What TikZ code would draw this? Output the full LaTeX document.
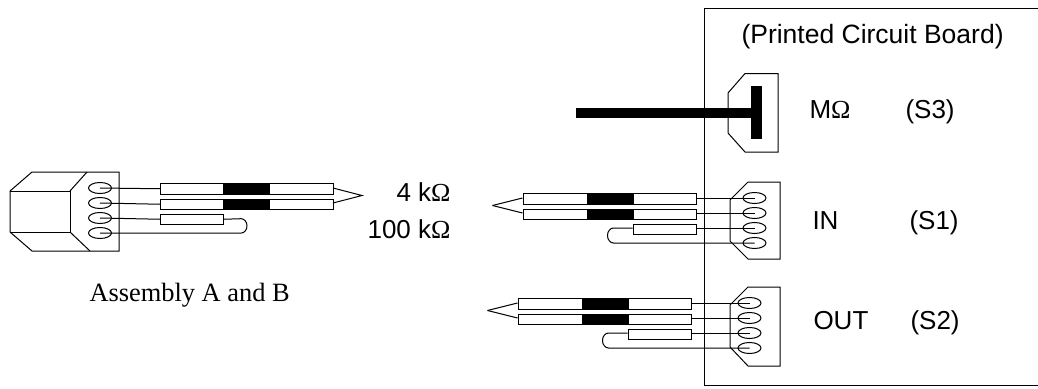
\documentclass[tikz,border=0pt]{standalone}
\usepackage{fontspec}
\setmainfont{Liberation Sans}
\newfontfamily\serifface{Liberation Serif}
\newcommand{\ohm}{{\serifface Ω}}
\usetikzlibrary{shapes.geometric}
\tikzset{
  x=1pt,y=-1pt,
  every path/.style={line width=1pt,line join=miter},
  lbl/.style={inner sep=0pt,font=\fontsize{26}{30}\selectfont,text=black},
  pad/.style={draw=black,fill=white,ellipse,minimum width=23pt,minimum height=11pt,inner sep=0pt},
  sleeve/.style={draw=black,fill=white,inner sep=0pt,anchor=north west},
  band/.style={fill=black,draw=black,inner sep=0pt,anchor=north west},
}
\newcommand{\probe}[3]{%
  \begin{scope}[shift={(#1,#2)}]
    \coordinate (#3t) at (-30,7.5);
    \coordinate (#3a) at (0,0);
    \coordinate (#3b) at (0,15);
    \node[sleeve,minimum width=173pt,minimum height=10.5pt] (#3s1) at (0,-5) {};
    \node[sleeve,minimum width=173pt,minimum height=10.5pt] (#3s2) at (0,10.5) {};
    \node[band,minimum width=46pt,minimum height=10.5pt] (#3k1) at (64,-5) {};
    \node[band,minimum width=46pt,minimum height=10.5pt] (#3k2) at (64,10.5) {};
    \node[sleeve,minimum width=63pt,minimum height=10.5pt] (#3s3) at (110,25.5) {};
    \coordinate (#3r1) at (173,0);
    \coordinate (#3r2) at (173,15);
    \coordinate (#3r3) at (173,30);
    \coordinate (#3l3) at (110,30);
    \coordinate (#3la) at (91,30);
    \node[pad] (#3p1) at (232,0) {};
    \node[pad] (#3p2) at (232,15) {};
    \node[pad] (#3p3) at (232,30) {};
    \node[pad] (#3p4) at (232,45) {};
    \draw (#3t) -- (#3a);
    \draw (#3t) -- (#3b);
    \draw (#3r1) -- (#3p1.center);
    \draw (#3r2) -- (#3p2.center);
    \draw (#3r3) -- (#3p3.center);
    \draw (#3l3) -- (#3la) arc[start angle=-90,end angle=-270,x radius=6pt,y radius=-7.5pt] -- (#3p4.center);
  \end{scope}}
\begin{document}
\begin{tikzpicture}
\useasboundingbox (0,0) rectangle (1038,388);
\fill[white] (0,0) rectangle (1038,388);
% board
\draw (1038,8) -- (704,8) -- (704,385) -- (1038,385);
% thick lead and M-ohm connector
\draw (728,93) -- (745,73.5) -- (778,73.5) -- (778,152) -- (745,152) -- (728,133) -- cycle;
\fill (576,107.5) rectangle (751,118);
\fill (750.5,85.5) rectangle (762,139);
% IN connector
\draw (730,200) -- (748,182) -- (780,182) -- (780,259) -- (748,259) -- (730,241) -- cycle;
% OUT connector
\draw (730,305) -- (748,287) -- (780,287) -- (780,366) -- (748,366) -- (730,347) -- cycle;
\probe{522.5}{198}{i}
\probe{517.5}{303}{o}
% Left assembly
\draw (10,191) -- (32,172) -- (119,172) -- (119,251) -- (32,251) -- (10,232) -- cycle;
\draw (10,191) -- (70,191) -- (70,232) -- (10,232);
\draw (70,191) -- (87,172);
\draw (70,232) -- (90,251);
\node[pad] (p1) at (100,188) {};
\node[pad] (p2) at (100,203) {};
\node[pad] (p3) at (100,218) {};
\node[pad] (p4) at (100,233) {};
\node[sleeve,minimum width=173pt,minimum height=10.5pt] (s1) at (160,183) {};
\node[sleeve,minimum width=173pt,minimum height=10.5pt] (s2) at (160,198.5) {};
\node[band,minimum width=46pt,minimum height=10.5pt] (k1) at (223,183) {};
\node[band,minimum width=46pt,minimum height=10.5pt] (k2) at (223,198.5) {};
\node[sleeve,minimum width=63pt,minimum height=10.5pt] (s3) at (160,213.5) {};
\coordinate (tip) at (362,195.5);
\draw (333,188) -- (tip) -- (333,203);
\draw (p1.center) -- (s1.west);
\draw (p2.center) -- (s2.west);
\draw (p3.center) -- (s3.west);
\draw (s3.east) -- (241,218.7) arc[start angle=-90,end angle=90,x radius=6pt,y radius=-7.2pt] -- (p4.center);
% labels
\node[lbl,anchor=base west,font=\fontsize{26.5}{30}\selectfont] (t0) at (741,43.3) {(Printed Circuit Board)};
\node[lbl,anchor=base west] (t1) at (809,118) {M\ohm};
\node[lbl,anchor=base west] (t2) at (905,118) {(S3)};
\node[lbl,anchor=base west] (t3) at (812,229) {IN};
\node[lbl,anchor=base west] (t4) at (909,229) {(S1)};
\node[lbl,anchor=base west] (t5) at (813,329) {OUT};
\node[lbl,anchor=base west] (t6) at (910,329) {(S2)};
\node[lbl,anchor=base east] (t7) at (451,201.5) {4 k\ohm};
\node[lbl,anchor=base east] (t8) at (451,238) {100 k\ohm};
\node[lbl,anchor=base west,font=\fontsize{26.4}{30}\serifface] (t9) at (89,301.5) {Assembly A and B};
\end{tikzpicture}
\end{document}
